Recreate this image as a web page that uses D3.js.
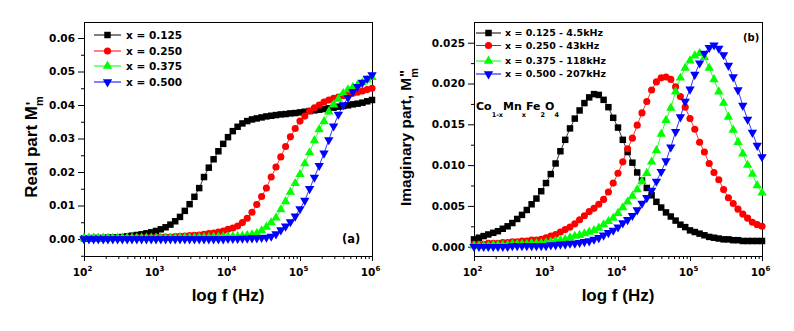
<!DOCTYPE html>
<html lang="en">
<head>
<meta charset="UTF-8">
<title>Electric modulus spectra</title>
<script src="https://d3js.org/d3.v7.min.js"></script>
<style>
  body { margin: 0; background: #fff; }
  svg text { font-family: "DejaVu Sans", sans-serif; font-weight: bold; fill: #000; }
  svg text.title { font-family: "Liberation Sans", Arial, sans-serif; }
</style>
</head>
<body>
<svg id="chart" width="794" height="331"></svg>
<script>
// measured frequencies (Hz), 15 per decade
const freqHz = [
  100, 117, 136, 158, 185, 215, 251, 293, 341, 398, 464, 541, 631, 736, 858,
  1000, 1166, 1359, 1585, 1848, 2154, 2512, 2929, 3415, 3981, 4642, 5412, 6310, 7356, 8577,
  10000, 11659, 13594, 15849, 18478, 21544, 25119, 29286, 34145, 39811, 46416, 54117, 63096, 73564, 85770,
  100000, 116591, 135936, 158489, 184785, 215443, 251189, 292864, 341455, 398107, 464159, 541170, 630957, 735642, 857696,
  1000000
];

const compositions = ["x = 0.125", "x = 0.250", "x = 0.375", "x = 0.500"];
const peakFreqs = ["4.5kHz", "43kHz", "118kHz", "207kHz"];

// real part M'
const mReal125 = [
  0.0002, 0.0002, 0.0003, 0.0003, 0.0003, 0.0004, 0.0004, 0.0005, 0.0006, 0.0008, 0.0010, 0.0012, 0.0014, 0.0017, 0.0020,
  0.0024, 0.0029, 0.0035, 0.0043, 0.0053, 0.0066, 0.0084, 0.0104, 0.0126, 0.0152, 0.0185, 0.0213, 0.0238, 0.0262, 0.0284,
  0.0304, 0.0322, 0.0335, 0.0345, 0.0352, 0.0357, 0.0360, 0.0363, 0.0366, 0.0368, 0.0370, 0.0372, 0.0373, 0.0375, 0.0376,
  0.0378, 0.0380, 0.0382, 0.0384, 0.0386, 0.0388, 0.0390, 0.0392, 0.0395, 0.0397, 0.0399, 0.0402, 0.0404, 0.0407, 0.0411,
  0.0415
];
const mReal250 = [
  0.0002, 0.0002, 0.0002, 0.0002, 0.0002, 0.0002, 0.0003, 0.0003, 0.0003, 0.0003, 0.0003, 0.0004, 0.0004, 0.0004, 0.0004,
  0.0005, 0.0005, 0.0006, 0.0006, 0.0007, 0.0008, 0.0009, 0.0010, 0.0011, 0.0012, 0.0014, 0.0016, 0.0018, 0.0021, 0.0024,
  0.0029, 0.0033, 0.0039, 0.0049, 0.0062, 0.0080, 0.0103, 0.0127, 0.0152, 0.0185, 0.0215, 0.0245, 0.0276, 0.0305, 0.0330,
  0.0352, 0.0367, 0.0382, 0.0392, 0.0400, 0.0409, 0.0415, 0.0420, 0.0424, 0.0428, 0.0431, 0.0435, 0.0438, 0.0442, 0.0446,
  0.0450
];
const mReal375 = [
  0.0003, 0.0003, 0.0003, 0.0003, 0.0003, 0.0003, 0.0003, 0.0003, 0.0003, 0.0003, 0.0003, 0.0003, 0.0003, 0.0003, 0.0003,
  0.0003, 0.0003, 0.0003, 0.0003, 0.0003, 0.0004, 0.0004, 0.0004, 0.0004, 0.0005, 0.0005, 0.0005, 0.0006, 0.0006, 0.0007,
  0.0007, 0.0008, 0.0008, 0.0009, 0.0011, 0.0013, 0.0017, 0.0025, 0.0036, 0.0049, 0.0063, 0.0088, 0.0112, 0.0140, 0.0166,
  0.0193, 0.0225, 0.0258, 0.0294, 0.0327, 0.0351, 0.0380, 0.0401, 0.0418, 0.0435, 0.0446, 0.0453, 0.0460, 0.0467, 0.0475,
  0.0483
];
const mReal500 = [
  0.0000, 0.0000, 0.0000, 0.0000, 0.0000, 0.0000, 0.0000, 0.0000, 0.0000, 0.0000, 0.0000, 0.0000, 0.0000, 0.0000, 0.0000,
  0.0000, 0.0000, 0.0000, 0.0000, 0.0000, 0.0000, 0.0000, 0.0000, 0.0000, 0.0000, 0.0000, 0.0000, 0.0000, 0.0000, 0.0000,
  0.0001, 0.0001, 0.0001, 0.0002, 0.0002, 0.0003, 0.0003, 0.0004, 0.0005, 0.0008, 0.0015, 0.0027, 0.0038, 0.0051, 0.0068,
  0.0090, 0.0115, 0.0150, 0.0184, 0.0219, 0.0256, 0.0296, 0.0337, 0.0372, 0.0400, 0.0422, 0.0440, 0.0455, 0.0467, 0.0479,
  0.0490
];

// imaginary part M''
const mImag125 = [
  0.0009, 0.0011, 0.0013, 0.0015, 0.0017, 0.0019, 0.0022, 0.0025, 0.0029, 0.0034, 0.0039, 0.0045, 0.0052, 0.0059, 0.0068,
  0.0078, 0.0089, 0.0102, 0.0117, 0.0131, 0.0145, 0.0157, 0.0167, 0.0176, 0.0183, 0.0187, 0.0186, 0.0180, 0.0171, 0.0158,
  0.0146, 0.0131, 0.0116, 0.0103, 0.0091, 0.0081, 0.0072, 0.0063, 0.0055, 0.0048, 0.0042, 0.0037, 0.0032, 0.0027, 0.0024,
  0.0020, 0.0018, 0.0016, 0.0014, 0.0012, 0.0011, 0.0010, 0.0009, 0.0009, 0.0008, 0.0008, 0.0007, 0.0007, 0.0007, 0.0007,
  0.0007
];
const mImag250 = [
  0.0003, 0.0003, 0.0003, 0.0004, 0.0004, 0.0004, 0.0005, 0.0005, 0.0006, 0.0006, 0.0007, 0.0007, 0.0008, 0.0008, 0.0009,
  0.0011, 0.0013, 0.0015, 0.0018, 0.0021, 0.0024, 0.0028, 0.0033, 0.0038, 0.0043, 0.0047, 0.0052, 0.0058, 0.0067, 0.0078,
  0.0090, 0.0104, 0.0120, 0.0133, 0.0149, 0.0164, 0.0178, 0.0192, 0.0202, 0.0207, 0.0208, 0.0205, 0.0196, 0.0184, 0.0171,
  0.0157, 0.0144, 0.0128, 0.0116, 0.0102, 0.0091, 0.0082, 0.0070, 0.0060, 0.0053, 0.0046, 0.0040, 0.0035, 0.0030, 0.0027,
  0.0025
];
const mImag375 = [
  0.0001, 0.0001, 0.0001, 0.0001, 0.0002, 0.0002, 0.0002, 0.0002, 0.0003, 0.0003, 0.0003, 0.0003, 0.0004, 0.0004, 0.0004,
  0.0005, 0.0006, 0.0007, 0.0008, 0.0009, 0.0011, 0.0013, 0.0014, 0.0016, 0.0018, 0.0020, 0.0023, 0.0027, 0.0031, 0.0035,
  0.0041, 0.0048, 0.0055, 0.0062, 0.0070, 0.0080, 0.0090, 0.0104, 0.0118, 0.0138, 0.0155, 0.0170, 0.0190, 0.0207, 0.0219,
  0.0228, 0.0234, 0.0237, 0.0232, 0.0219, 0.0205, 0.0190, 0.0176, 0.0159, 0.0143, 0.0128, 0.0114, 0.0100, 0.0089, 0.0075,
  0.0066
];
const mImag500 = [
  0.0000, 0.0000, 0.0000, 0.0000, 0.0000, 0.0000, 0.0000, 0.0000, 0.0001, 0.0001, 0.0001, 0.0001, 0.0001, 0.0001, 0.0001,
  0.0001, 0.0002, 0.0002, 0.0003, 0.0003, 0.0004, 0.0004, 0.0005, 0.0006, 0.0007, 0.0009, 0.0011, 0.0014, 0.0017, 0.0020,
  0.0024, 0.0029, 0.0033, 0.0038, 0.0045, 0.0053, 0.0060, 0.0069, 0.0080, 0.0092, 0.0105, 0.0122, 0.0141, 0.0159, 0.0178,
  0.0193, 0.0211, 0.0225, 0.0237, 0.0244, 0.0247, 0.0243, 0.0235, 0.0222, 0.0208, 0.0192, 0.0173, 0.0156, 0.0140, 0.0124,
  0.0110
];

const decades = [1e2, 1e3, 1e4, 1e5, 1e6];
const realTicks = [0, 0.01, 0.02, 0.03, 0.04, 0.05, 0.06];
const realMinor = [-0.005, 0.005, 0.015, 0.025, 0.035, 0.045, 0.055];
const imagTicks = [0, 0.005, 0.010, 0.015, 0.020, 0.025];
const imagMinor = [0.0025, 0.0075, 0.0125, 0.0175, 0.0225];

const colors = ["#000000", "#ff0000", "#00ff00", "#0000ff"];
const symbols = [
  d3.symbol().type(d3.symbolSquare).size(42),
  d3.symbol().type(d3.symbolCircle).size(40),
  d3.symbol().type(d3.symbolTriangle).size(38),
  d3.symbol().type(d3.symbolTriangle).size(38)
];
const flipped = [false, false, false, true];

const svg = d3.select("#chart");
const plotTop = 22, plotBottom = 256;

function marker(sel, i) {
  sel.attr("d", symbols[i]())
    .attr("fill", colors[i]);
}

function drawPanel(p) {
  const x = d3.scaleLog().domain([1e2, 1e6]).range([p.left, p.right]);
  const y = d3.scaleLinear().domain(p.yDomain).range([plotBottom, plotTop]);
  const g = svg.append("g");

  // minor then major ticks on the frequency axis
  const minorX = x.ticks().filter(t => Math.abs(Math.log10(t) % 1) > 1e-6);
  g.append("g").attr("transform", `translate(0,${plotBottom})`)
    .call(d3.axisBottom(x).tickValues(minorX).tickSize(3).tickSizeOuter(0).tickFormat(""));
  const xa = g.append("g").attr("transform", `translate(0,${plotBottom})`)
    .call(d3.axisBottom(x).tickValues(decades).tickSize(5).tickSizeOuter(0));
  xa.selectAll(".tick text").each(function(d) {
    const t = d3.select(this).text(null).attr("y", 20).attr("dy", null)
      .attr("font-size", 10.5).attr("dx", -2);
    t.append("tspan").text("10");
    t.append("tspan").attr("dy", -5).attr("font-size", 7).text(Math.round(Math.log10(d)));
  });

  // value axis
  g.append("g").attr("transform", `translate(${p.left},0)`)
    .call(d3.axisLeft(y).tickValues(p.minor).tickSize(3).tickSizeOuter(0).tickFormat(""));
  g.append("g").attr("transform", `translate(${p.left},0)`)
    .call(d3.axisLeft(y).tickValues(p.ticks).tickSize(6).tickSizeOuter(0).tickFormat(d3.format(p.fmt)))
    .selectAll(".tick text").attr("font-size", 10.5);

  g.selectAll(".tick text").attr("font-family", null).attr("fill", null);
  g.selectAll(".domain, .tick line").attr("stroke-width", 1);

  // frame
  g.append("rect")
    .attr("x", p.left + 0.5).attr("y", plotTop + 0.5)
    .attr("width", p.right - p.left).attr("height", plotBottom - plotTop)
    .attr("fill", "none").attr("stroke", "#000").attr("stroke-width", 1);

  const line = d3.line().x((d, j) => x(freqHz[j])).y(d => y(d));
  p.series.forEach((vals, i) => {
    g.append("path").datum(vals).attr("d", line)
      .attr("fill", "none").attr("stroke", colors[i]).attr("stroke-width", 0.8);
  });
  p.series.forEach((vals, i) => {
    g.append("g").selectAll("path").data(vals).join("path")
      .attr("transform", (d, j) => `translate(${x(freqHz[j])},${y(d)})${flipped[i] ? " rotate(180)" : ""}`)
      .call(marker, i);
  });

  // legend
  p.legendY.forEach((ly, i) => {
    const lg = svg.append("g");
    lg.append("line").attr("x1", p.legendX[0]).attr("x2", p.legendX[2])
      .attr("y1", ly).attr("y2", ly).attr("stroke", colors[i]).attr("stroke-width", 1);
    lg.append("path")
      .attr("transform", `translate(${p.legendX[1]},${ly})${flipped[i] ? " rotate(180)" : ""}`)
      .call(marker, i);
    lg.append("text").attr("x", p.legendX[3]).attr("y", ly).attr("dy", "0.36em")
      .attr("font-size", p.legendFont).text(p.legendText[i]);
  });

  // axis titles
  svg.append("text").attr("class", "title")
    .attr("x", (p.left + p.right) / 2).attr("y", 301)
    .attr("text-anchor", "middle").attr("font-size", 17).text("log f (Hz)");

  const yt = svg.append("text").attr("class", "title")
    .attr("transform", `translate(${p.titleX},${p.titleY}) rotate(-90)`)
    .attr("text-anchor", "middle").attr("font-size", p.titleFont);
  yt.append("tspan").text(p.title);
  yt.append("tspan").attr("dy", p.subDy).attr("font-size", 11).text("m");
  yt.append("tspan").attr("dx", -9).attr("dy", -p.subDy - 1).attr("font-size", 15).text(p.prime);
}

drawPanel({
  left: 84, right: 372,
  yDomain: [-0.00507, 0.06478],
  ticks: realTicks, minor: realMinor, fmt: ".2f",
  series: [mReal125, mReal250, mReal375, mReal500],
  legendY: [35, 51, 66, 82], legendX: [94, 107.5, 121, 126], legendFont: 10.5,
  legendText: compositions,
  title: "Real part M", prime: "'", titleX: 37, titleY: 147, titleFont: 17, subDy: 6
});

drawPanel({
  left: 474, right: 762,
  yDomain: [-0.00114, 0.02754],
  ticks: imagTicks, minor: imagMinor, fmt: ".3f",
  series: [mImag125, mImag250, mImag375, mImag500],
  legendY: [33, 45.5, 61, 74], legendX: [476, 488.5, 501, 505], legendFont: 9.5,
  legendText: compositions.map((c, i) => `${c} - ${peakFreqs[i]}`),
  title: "Imaginary part, M", prime: "\"", titleX: 411, titleY: 137, titleFont: 15.5, subDy: 7
});

// panel tags and composition label
svg.append("text").attr("x", 342).attr("y", 243).attr("font-size", 11.5).text("(a)");
svg.append("text").attr("x", 743).attr("y", 41).attr("font-size", 10).text("(b)");

const formula = svg.append("text").attr("x", 476).attr("y", 110).attr("font-size", 11);
[["Co", false], ["1-x", true], ["Mn", false], ["x", true], ["Fe", false], ["2", true], ["O", false], ["4", true]]
  .forEach(([s, sub], k) => {
    formula.append("tspan")
      .attr("dy", k === 0 ? 0 : (sub ? 7 : -7))
      .attr("font-size", sub ? 6.5 : 11)
      .text(s);
  });
</script>
</body>
</html>
